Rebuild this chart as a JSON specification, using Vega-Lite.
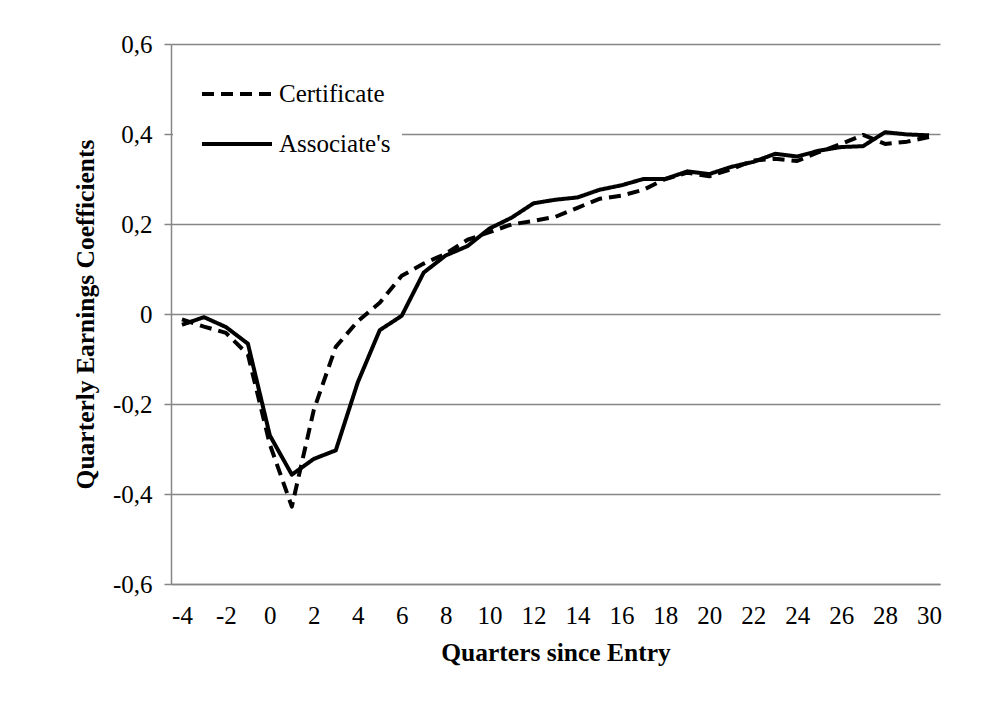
{
  "$schema": "https://vega.github.io/schema/vega-lite/v6.json",
  "width": 769,
  "height": 540,
  "autosize": "none",
  "padding": {"left": 171, "top": 44, "right": 48, "bottom": 144},
  "background": "white",
  "config": {
    "view": {"stroke": null}
  },
  "data": {
    "values": [
      {"q": -4, "series": "Certificate", "value": -0.012},
      {"q": -3, "series": "Certificate", "value": -0.028},
      {"q": -2, "series": "Certificate", "value": -0.042},
      {"q": -1, "series": "Certificate", "value": -0.09},
      {"q": 0, "series": "Certificate", "value": -0.29},
      {"q": 1, "series": "Certificate", "value": -0.428},
      {"q": 2, "series": "Certificate", "value": -0.213},
      {"q": 3, "series": "Certificate", "value": -0.073},
      {"q": 4, "series": "Certificate", "value": -0.016},
      {"q": 5, "series": "Certificate", "value": 0.025},
      {"q": 6, "series": "Certificate", "value": 0.085},
      {"q": 7, "series": "Certificate", "value": 0.112},
      {"q": 8, "series": "Certificate", "value": 0.134},
      {"q": 9, "series": "Certificate", "value": 0.165},
      {"q": 10, "series": "Certificate", "value": 0.182},
      {"q": 11, "series": "Certificate", "value": 0.199},
      {"q": 12, "series": "Certificate", "value": 0.207},
      {"q": 13, "series": "Certificate", "value": 0.216},
      {"q": 14, "series": "Certificate", "value": 0.236},
      {"q": 15, "series": "Certificate", "value": 0.256},
      {"q": 16, "series": "Certificate", "value": 0.263},
      {"q": 17, "series": "Certificate", "value": 0.276},
      {"q": 18, "series": "Certificate", "value": 0.3},
      {"q": 19, "series": "Certificate", "value": 0.314},
      {"q": 20, "series": "Certificate", "value": 0.306},
      {"q": 21, "series": "Certificate", "value": 0.322},
      {"q": 22, "series": "Certificate", "value": 0.341},
      {"q": 23, "series": "Certificate", "value": 0.345},
      {"q": 24, "series": "Certificate", "value": 0.34},
      {"q": 25, "series": "Certificate", "value": 0.36},
      {"q": 26, "series": "Certificate", "value": 0.378},
      {"q": 27, "series": "Certificate", "value": 0.398},
      {"q": 28, "series": "Certificate", "value": 0.378},
      {"q": 29, "series": "Certificate", "value": 0.383},
      {"q": 30, "series": "Certificate", "value": 0.393},
      {"q": -4, "series": "Associate's", "value": -0.024},
      {"q": -3, "series": "Associate's", "value": -0.007},
      {"q": -2, "series": "Associate's", "value": -0.029},
      {"q": -1, "series": "Associate's", "value": -0.066},
      {"q": 0, "series": "Associate's", "value": -0.27},
      {"q": 1, "series": "Associate's", "value": -0.357},
      {"q": 2, "series": "Associate's", "value": -0.322},
      {"q": 3, "series": "Associate's", "value": -0.303},
      {"q": 4, "series": "Associate's", "value": -0.152},
      {"q": 5, "series": "Associate's", "value": -0.036},
      {"q": 6, "series": "Associate's", "value": -0.004},
      {"q": 7, "series": "Associate's", "value": 0.092},
      {"q": 8, "series": "Associate's", "value": 0.13},
      {"q": 9, "series": "Associate's", "value": 0.151},
      {"q": 10, "series": "Associate's", "value": 0.19},
      {"q": 11, "series": "Associate's", "value": 0.214},
      {"q": 12, "series": "Associate's", "value": 0.246},
      {"q": 13, "series": "Associate's", "value": 0.254},
      {"q": 14, "series": "Associate's", "value": 0.259},
      {"q": 15, "series": "Associate's", "value": 0.276},
      {"q": 16, "series": "Associate's", "value": 0.286},
      {"q": 17, "series": "Associate's", "value": 0.3},
      {"q": 18, "series": "Associate's", "value": 0.3},
      {"q": 19, "series": "Associate's", "value": 0.317},
      {"q": 20, "series": "Associate's", "value": 0.311},
      {"q": 21, "series": "Associate's", "value": 0.327},
      {"q": 22, "series": "Associate's", "value": 0.338},
      {"q": 23, "series": "Associate's", "value": 0.356},
      {"q": 24, "series": "Associate's", "value": 0.35},
      {"q": 25, "series": "Associate's", "value": 0.363},
      {"q": 26, "series": "Associate's", "value": 0.371},
      {"q": 27, "series": "Associate's", "value": 0.373},
      {"q": 28, "series": "Associate's", "value": 0.404},
      {"q": 29, "series": "Associate's", "value": 0.399},
      {"q": 30, "series": "Associate's", "value": 0.397}
    ]
  },
  "mark": {"type": "line", "color": "black", "strokeWidth": 4, "strokeJoin": "round"},
  "encoding": {
    "x": {
      "field": "q",
      "type": "quantitative",
      "scale": {"domain": [-4.5, 30.5], "nice": false, "zero": false},
      "axis": {
        "title": "Quarters since Entry",
        "values": [-4, -2, 0, 2, 4, 6, 8, 10, 12, 14, 16, 18, 20, 22, 24, 26, 28, 30],
        "labelExpr": "(datum.value < 0 ? '-' : '') + format(abs(datum.value), 'd')",
        "grid": false,
        "ticks": false,
        "domainColor": "#868686",
        "domainWidth": 1.5,
        "labelFont": "serif",
        "labelFontSize": 25,
        "labelColor": "black",
        "labelPadding": 19,
        "labelFlush": false,
        "labelOverlap": false,
        "titleFont": "serif",
        "titleFontSize": 25.5,
        "titleFontWeight": "bold",
        "titleColor": "black",
        "titlePadding": 12
      }
    },
    "y": {
      "field": "value",
      "type": "quantitative",
      "scale": {"domain": [-0.6, 0.6], "nice": false, "zero": false},
      "axis": {
        "title": "Quarterly Earnings Coefficients",
        "values": [-0.6, -0.4, -0.2, 0, 0.2, 0.4, 0.6],
        "labelExpr": "datum.value == 0 ? '0' : (datum.value < 0 ? '-' : '') + replace(format(abs(datum.value), '.1f'), '.', ',')",
        "grid": true,
        "gridColor": "#868686",
        "gridWidth": 1.5,
        "tickColor": "#868686",
        "tickSize": 7,
        "tickWidth": 1.5,
        "domainColor": "#868686",
        "domainWidth": 1.5,
        "labelFont": "serif",
        "labelFontSize": 25,
        "labelColor": "black",
        "labelPadding": 12,
        "titleFont": "serif",
        "titleFontSize": 25.5,
        "titleFontWeight": "bold",
        "titleColor": "black",
        "titlePadding": 14
      }
    },
    "strokeDash": {
      "field": "series",
      "type": "nominal",
      "scale": {"domain": ["Certificate", "Associate's"], "range": [[12, 7], [1, 0]]},
      "legend": {
        "title": null,
        "orient": "none",
        "legendX": 2,
        "legendY": 2,
        "padding": 11,
        "fillColor": "white",
        "symbolType": "stroke",
        "symbolSize": 4900,
        "symbolStrokeWidth": 4,
        "symbolStrokeColor": "black",
        "symbolOffset": 16,
        "labelFont": "serif",
        "labelFontSize": 25,
        "labelColor": "black",
        "labelOffset": 5,
        "rowPadding": -10
      }
    }
  }
}
